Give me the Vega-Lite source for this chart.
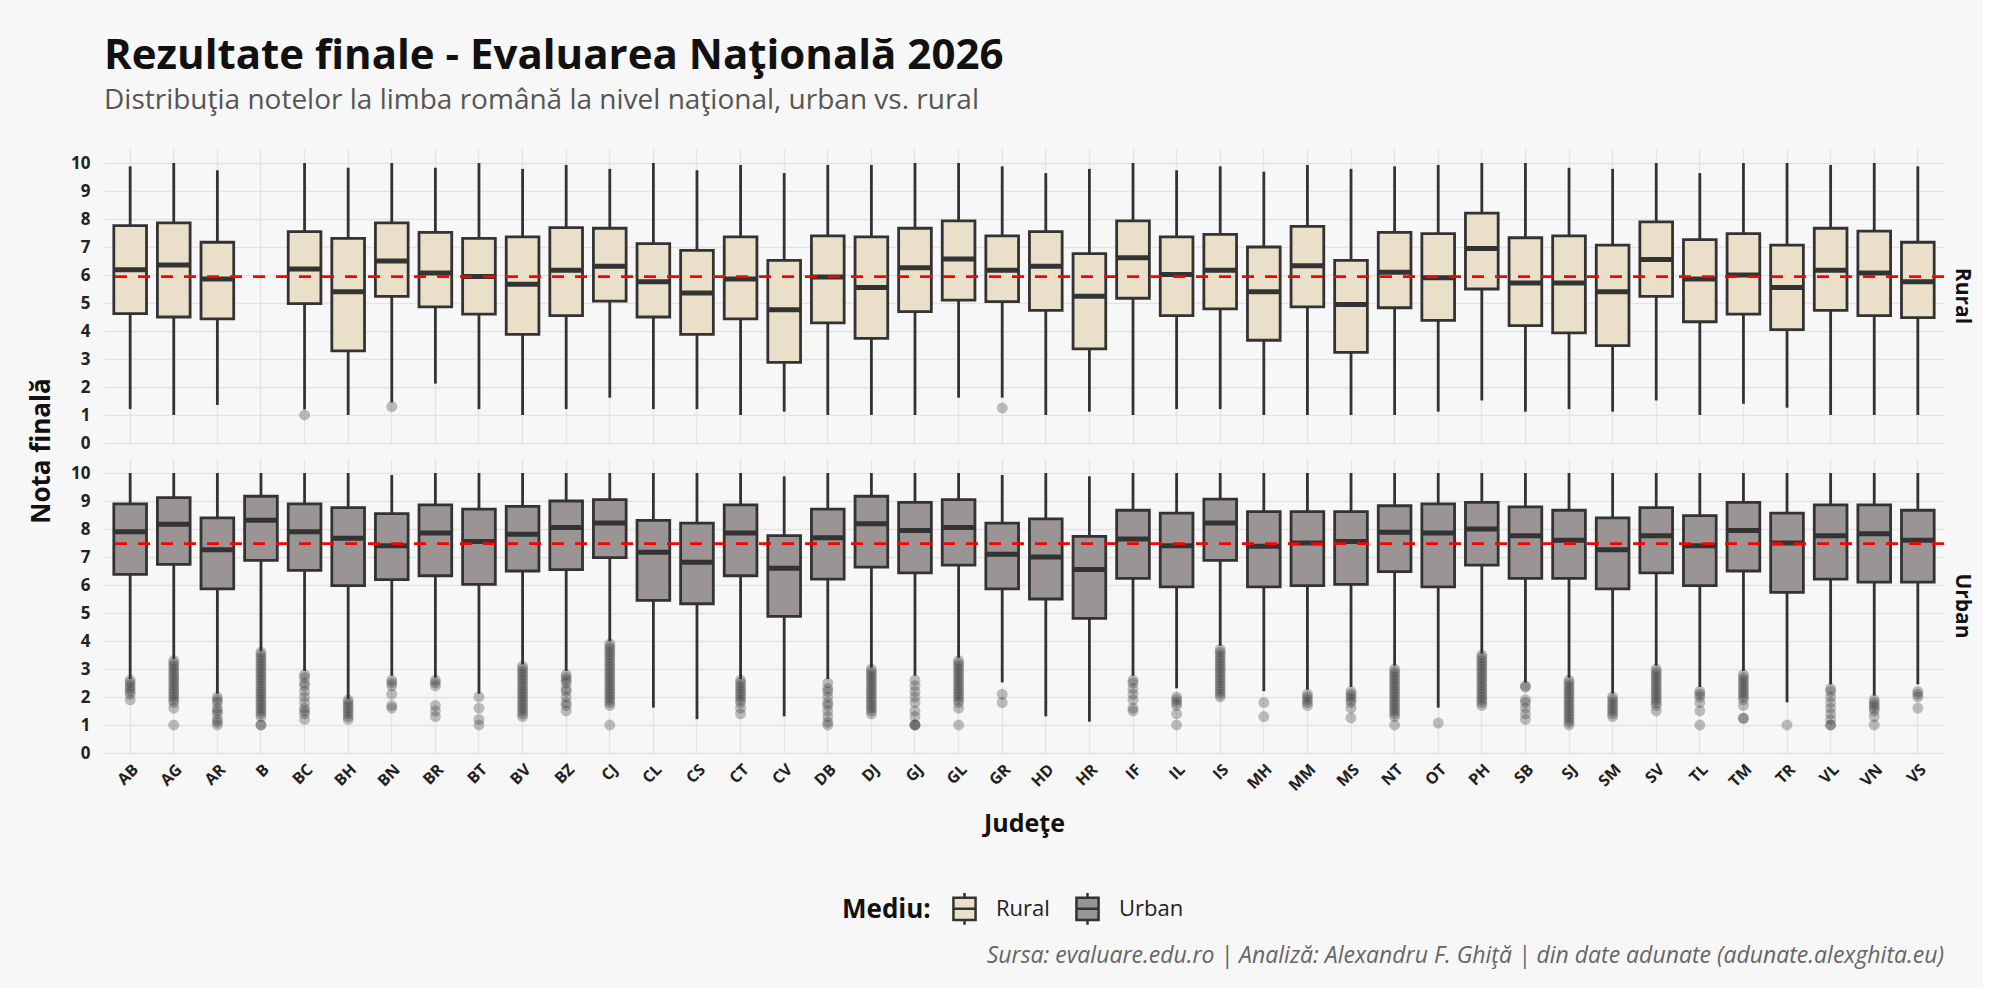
{
  "$schema": "https://vega.github.io/schema/vega-lite/v6.json",
  "background": "#F7F7F7",
  "padding": {"left": 28, "top": 35, "right": 10, "bottom": 20},
  "title": {
    "text": "Rezultate finale - Evaluarea Naţională 2026",
    "subtitle": "Distribuţia notelor la limba română la nivel naţional, urban vs. rural",
    "anchor": "start", "frame": "group",
    "font": "Open Sans", "fontSize": 42, "fontWeight": "bold", "color": "#111111",
    "subtitleFont": "Open Sans", "subtitleFontSize": 28, "subtitleColor": "#555555", "subtitlePadding": 9, "offset": 33
  },
  "config": {
    "font": "Open Sans",
    "view": {"stroke": null},
    "axis": {"gridColor": "#E4E4E4", "gridWidth": 1.4, "domain": false, "ticks": false, "labelFont": "Open Sans", "labelFontWeight": "bold", "labelColor": "#222222", "titleFont": "Open Sans"}
  },
  "vconcat": [
    {
      "title": {
        "text": "Sursa: evaluare.edu.ro | Analiză: Alexandru F. Ghiţă | din date adunate (adunate.alexghita.eu)",
        "orient": "bottom", "anchor": "start", "align": "right", "dx": 1840, "frame": "group",
        "font": "Open Sans", "fontSize": 23, "fontStyle": "italic", "fontWeight": "normal", "color": "#666666", "offset": 108
      },
      "data": {"values": [
        {"j":"AB","m":"Rural","t":"b","lo":1.21,"q1":4.62,"md":6.19,"q3":7.76,"hi":9.88},
        {"j":"AG","m":"Rural","t":"b","lo":1.0,"q1":4.5,"md":6.36,"q3":7.86,"hi":10},
        {"j":"AR","m":"Rural","t":"b","lo":1.36,"q1":4.43,"md":5.86,"q3":7.17,"hi":9.74},
        {"j":"BC","m":"Rural","t":"b","lo":1.2,"q1":4.98,"md":6.21,"q3":7.55,"hi":10},
        {"j":"BH","m":"Rural","t":"b","lo":1.0,"q1":3.29,"md":5.4,"q3":7.31,"hi":9.83},
        {"j":"BN","m":"Rural","t":"b","lo":1.45,"q1":5.24,"md":6.5,"q3":7.86,"hi":10},
        {"j":"BR","m":"Rural","t":"b","lo":2.12,"q1":4.86,"md":6.07,"q3":7.52,"hi":9.83},
        {"j":"BT","m":"Rural","t":"b","lo":1.21,"q1":4.6,"md":5.95,"q3":7.31,"hi":10},
        {"j":"BV","m":"Rural","t":"b","lo":1.0,"q1":3.88,"md":5.67,"q3":7.36,"hi":9.79},
        {"j":"BZ","m":"Rural","t":"b","lo":1.21,"q1":4.55,"md":6.17,"q3":7.69,"hi":9.93},
        {"j":"CJ","m":"Rural","t":"b","lo":1.62,"q1":5.07,"md":6.31,"q3":7.67,"hi":9.79},
        {"j":"CL","m":"Rural","t":"b","lo":1.21,"q1":4.5,"md":5.76,"q3":7.12,"hi":10},
        {"j":"CS","m":"Rural","t":"b","lo":1.21,"q1":3.88,"md":5.36,"q3":6.88,"hi":9.74},
        {"j":"CT","m":"Rural","t":"b","lo":1.0,"q1":4.43,"md":5.86,"q3":7.36,"hi":9.93},
        {"j":"CV","m":"Rural","t":"b","lo":1.12,"q1":2.88,"md":4.76,"q3":6.52,"hi":9.64},
        {"j":"DB","m":"Rural","t":"b","lo":1.0,"q1":4.29,"md":5.93,"q3":7.4,"hi":9.93},
        {"j":"DJ","m":"Rural","t":"b","lo":1.0,"q1":3.74,"md":5.55,"q3":7.36,"hi":9.93},
        {"j":"GJ","m":"Rural","t":"b","lo":1.0,"q1":4.69,"md":6.26,"q3":7.67,"hi":10},
        {"j":"GL","m":"Rural","t":"b","lo":1.62,"q1":5.1,"md":6.57,"q3":7.93,"hi":10},
        {"j":"GR","m":"Rural","t":"b","lo":1.62,"q1":5.05,"md":6.17,"q3":7.4,"hi":9.88},
        {"j":"HD","m":"Rural","t":"b","lo":1.0,"q1":4.74,"md":6.31,"q3":7.55,"hi":9.64},
        {"j":"HR","m":"Rural","t":"b","lo":1.12,"q1":3.36,"md":5.24,"q3":6.76,"hi":9.79},
        {"j":"IF","m":"Rural","t":"b","lo":1.0,"q1":5.17,"md":6.62,"q3":7.93,"hi":10},
        {"j":"IL","m":"Rural","t":"b","lo":1.21,"q1":4.55,"md":6.02,"q3":7.36,"hi":9.74},
        {"j":"IS","m":"Rural","t":"b","lo":1.21,"q1":4.79,"md":6.17,"q3":7.45,"hi":9.88},
        {"j":"MH","m":"Rural","t":"b","lo":1.0,"q1":3.67,"md":5.4,"q3":7.0,"hi":9.69},
        {"j":"MM","m":"Rural","t":"b","lo":1.0,"q1":4.86,"md":6.33,"q3":7.74,"hi":9.93},
        {"j":"MS","m":"Rural","t":"b","lo":1.0,"q1":3.24,"md":4.95,"q3":6.52,"hi":9.79},
        {"j":"NT","m":"Rural","t":"b","lo":1.0,"q1":4.83,"md":6.1,"q3":7.52,"hi":9.88},
        {"j":"OT","m":"Rural","t":"b","lo":1.12,"q1":4.38,"md":5.9,"q3":7.48,"hi":9.93},
        {"j":"PH","m":"Rural","t":"b","lo":1.52,"q1":5.5,"md":6.95,"q3":8.21,"hi":10},
        {"j":"SB","m":"Rural","t":"b","lo":1.12,"q1":4.19,"md":5.71,"q3":7.33,"hi":10},
        {"j":"SJ","m":"Rural","t":"b","lo":1.21,"q1":3.93,"md":5.71,"q3":7.4,"hi":9.83},
        {"j":"SM","m":"Rural","t":"b","lo":1.12,"q1":3.48,"md":5.4,"q3":7.07,"hi":9.79},
        {"j":"SV","m":"Rural","t":"b","lo":1.52,"q1":5.24,"md":6.55,"q3":7.9,"hi":10},
        {"j":"TL","m":"Rural","t":"b","lo":1.0,"q1":4.33,"md":5.86,"q3":7.26,"hi":9.64},
        {"j":"TM","m":"Rural","t":"b","lo":1.4,"q1":4.6,"md":6.0,"q3":7.48,"hi":10},
        {"j":"TR","m":"Rural","t":"b","lo":1.26,"q1":4.05,"md":5.55,"q3":7.07,"hi":10},
        {"j":"VL","m":"Rural","t":"b","lo":1.0,"q1":4.74,"md":6.17,"q3":7.67,"hi":9.93},
        {"j":"VN","m":"Rural","t":"b","lo":1.0,"q1":4.55,"md":6.07,"q3":7.57,"hi":10},
        {"j":"VS","m":"Rural","t":"b","lo":1.0,"q1":4.48,"md":5.76,"q3":7.17,"hi":9.88},
        {"j":"AB","m":"Urban","t":"b","lo":2.64,"q1":6.38,"md":7.9,"q3":8.9,"hi":10},
        {"j":"AG","m":"Urban","t":"b","lo":3.36,"q1":6.74,"md":8.17,"q3":9.12,"hi":10},
        {"j":"AR","m":"Urban","t":"b","lo":2.12,"q1":5.86,"md":7.26,"q3":8.4,"hi":10},
        {"j":"B","m":"Urban","t":"b","lo":3.64,"q1":6.88,"md":8.31,"q3":9.17,"hi":10},
        {"j":"BC","m":"Urban","t":"b","lo":2.93,"q1":6.52,"md":7.9,"q3":8.9,"hi":10},
        {"j":"BH","m":"Urban","t":"b","lo":1.93,"q1":5.98,"md":7.67,"q3":8.76,"hi":10},
        {"j":"BN","m":"Urban","t":"b","lo":2.76,"q1":6.19,"md":7.4,"q3":8.55,"hi":9.93},
        {"j":"BR","m":"Urban","t":"b","lo":2.69,"q1":6.33,"md":7.86,"q3":8.86,"hi":10},
        {"j":"BT","m":"Urban","t":"b","lo":2.12,"q1":6.02,"md":7.55,"q3":8.71,"hi":10},
        {"j":"BV","m":"Urban","t":"b","lo":3.17,"q1":6.5,"md":7.81,"q3":8.81,"hi":10},
        {"j":"BZ","m":"Urban","t":"b","lo":2.93,"q1":6.55,"md":8.05,"q3":9.0,"hi":10},
        {"j":"CJ","m":"Urban","t":"b","lo":4.0,"q1":6.98,"md":8.21,"q3":9.05,"hi":10},
        {"j":"CL","m":"Urban","t":"b","lo":1.62,"q1":5.45,"md":7.17,"q3":8.31,"hi":10},
        {"j":"CS","m":"Urban","t":"b","lo":1.21,"q1":5.33,"md":6.81,"q3":8.21,"hi":10},
        {"j":"CT","m":"Urban","t":"b","lo":2.64,"q1":6.33,"md":7.86,"q3":8.86,"hi":10},
        {"j":"CV","m":"Urban","t":"b","lo":1.31,"q1":4.88,"md":6.6,"q3":7.76,"hi":9.88},
        {"j":"DB","m":"Urban","t":"b","lo":2.64,"q1":6.21,"md":7.69,"q3":8.71,"hi":10},
        {"j":"DJ","m":"Urban","t":"b","lo":3.05,"q1":6.64,"md":8.19,"q3":9.17,"hi":10},
        {"j":"GJ","m":"Urban","t":"b","lo":2.76,"q1":6.43,"md":7.95,"q3":8.95,"hi":10},
        {"j":"GL","m":"Urban","t":"b","lo":3.4,"q1":6.71,"md":8.05,"q3":9.05,"hi":10},
        {"j":"GR","m":"Urban","t":"b","lo":2.52,"q1":5.86,"md":7.1,"q3":8.21,"hi":9.93},
        {"j":"HD","m":"Urban","t":"b","lo":1.31,"q1":5.5,"md":7.0,"q3":8.36,"hi":10},
        {"j":"HR","m":"Urban","t":"b","lo":1.12,"q1":4.81,"md":6.55,"q3":7.74,"hi":9.88},
        {"j":"IF","m":"Urban","t":"b","lo":2.76,"q1":6.24,"md":7.64,"q3":8.67,"hi":10},
        {"j":"IL","m":"Urban","t":"b","lo":2.31,"q1":5.93,"md":7.4,"q3":8.57,"hi":10},
        {"j":"IS","m":"Urban","t":"b","lo":3.83,"q1":6.88,"md":8.21,"q3":9.07,"hi":10},
        {"j":"MH","m":"Urban","t":"b","lo":2.21,"q1":5.93,"md":7.38,"q3":8.62,"hi":10},
        {"j":"MM","m":"Urban","t":"b","lo":2.26,"q1":5.98,"md":7.5,"q3":8.62,"hi":10},
        {"j":"MS","m":"Urban","t":"b","lo":2.36,"q1":6.02,"md":7.55,"q3":8.62,"hi":10},
        {"j":"NT","m":"Urban","t":"b","lo":3.12,"q1":6.48,"md":7.88,"q3":8.83,"hi":10},
        {"j":"OT","m":"Urban","t":"b","lo":1.62,"q1":5.93,"md":7.86,"q3":8.9,"hi":10},
        {"j":"PH","m":"Urban","t":"b","lo":3.55,"q1":6.71,"md":8.0,"q3":8.95,"hi":10},
        {"j":"SB","m":"Urban","t":"b","lo":2.52,"q1":6.24,"md":7.76,"q3":8.79,"hi":10},
        {"j":"SJ","m":"Urban","t":"b","lo":2.69,"q1":6.24,"md":7.6,"q3":8.67,"hi":10},
        {"j":"SM","m":"Urban","t":"b","lo":2.12,"q1":5.86,"md":7.26,"q3":8.4,"hi":10},
        {"j":"SV","m":"Urban","t":"b","lo":3.12,"q1":6.43,"md":7.76,"q3":8.76,"hi":10},
        {"j":"TL","m":"Urban","t":"b","lo":2.36,"q1":5.98,"md":7.4,"q3":8.48,"hi":10},
        {"j":"TM","m":"Urban","t":"b","lo":2.93,"q1":6.5,"md":7.95,"q3":8.95,"hi":10},
        {"j":"TR","m":"Urban","t":"b","lo":1.81,"q1":5.74,"md":7.5,"q3":8.57,"hi":10},
        {"j":"VL","m":"Urban","t":"b","lo":2.45,"q1":6.21,"md":7.76,"q3":8.86,"hi":10},
        {"j":"VN","m":"Urban","t":"b","lo":2.05,"q1":6.1,"md":7.83,"q3":8.86,"hi":10},
        {"j":"VS","m":"Urban","t":"b","lo":2.45,"q1":6.1,"md":7.6,"q3":8.67,"hi":10},
        {"m":"Rural","t":"m","v":5.94},
        {"m":"Urban","t":"m","v":7.48},
        {"j":"BC","m":"Rural","t":"o","v":1.0},
        {"j":"BN","m":"Rural","t":"o","v":1.3},
        {"j":"GR","m":"Rural","t":"o","v":1.25},
        {"j":"AB","m":"Urban","t":"o","v":2.6},{"j":"AB","m":"Urban","t":"o","v":2.5},{"j":"AB","m":"Urban","t":"o","v":2.4},{"j":"AB","m":"Urban","t":"o","v":2.3},{"j":"AB","m":"Urban","t":"o","v":2.2},{"j":"AB","m":"Urban","t":"o","v":2.1},{"j":"AB","m":"Urban","t":"o","v":1.9},
        {"j":"AG","m":"Urban","t":"o","v":3.3},{"j":"AG","m":"Urban","t":"o","v":3.2},{"j":"AG","m":"Urban","t":"o","v":3.1},{"j":"AG","m":"Urban","t":"o","v":3.0},{"j":"AG","m":"Urban","t":"o","v":2.9},{"j":"AG","m":"Urban","t":"o","v":2.8},{"j":"AG","m":"Urban","t":"o","v":2.7},{"j":"AG","m":"Urban","t":"o","v":2.6},{"j":"AG","m":"Urban","t":"o","v":2.5},{"j":"AG","m":"Urban","t":"o","v":2.4},{"j":"AG","m":"Urban","t":"o","v":2.3},{"j":"AG","m":"Urban","t":"o","v":2.2},{"j":"AG","m":"Urban","t":"o","v":2.1},{"j":"AG","m":"Urban","t":"o","v":2.0},{"j":"AG","m":"Urban","t":"o","v":1.9},{"j":"AG","m":"Urban","t":"o","v":1.8},{"j":"AG","m":"Urban","t":"o","v":1.6},{"j":"AG","m":"Urban","t":"o","v":1.0},
        {"j":"AR","m":"Urban","t":"o","v":2.0},{"j":"AR","m":"Urban","t":"o","v":1.9},{"j":"AR","m":"Urban","t":"o","v":1.8},{"j":"AR","m":"Urban","t":"o","v":1.6},{"j":"AR","m":"Urban","t":"o","v":1.5},{"j":"AR","m":"Urban","t":"o","v":1.4},{"j":"AR","m":"Urban","t":"o","v":1.2},{"j":"AR","m":"Urban","t":"o","v":1.1},{"j":"AR","m":"Urban","t":"o","v":1.0},
        {"j":"B","m":"Urban","t":"o","v":3.6},{"j":"B","m":"Urban","t":"o","v":3.5},{"j":"B","m":"Urban","t":"o","v":3.4},{"j":"B","m":"Urban","t":"o","v":3.3},{"j":"B","m":"Urban","t":"o","v":3.2},{"j":"B","m":"Urban","t":"o","v":3.1},{"j":"B","m":"Urban","t":"o","v":3.0},{"j":"B","m":"Urban","t":"o","v":2.9},{"j":"B","m":"Urban","t":"o","v":2.8},{"j":"B","m":"Urban","t":"o","v":2.7},{"j":"B","m":"Urban","t":"o","v":2.6},{"j":"B","m":"Urban","t":"o","v":2.5},{"j":"B","m":"Urban","t":"o","v":2.4},{"j":"B","m":"Urban","t":"o","v":2.3},{"j":"B","m":"Urban","t":"o","v":2.2},{"j":"B","m":"Urban","t":"o","v":2.1},{"j":"B","m":"Urban","t":"o","v":2.0},{"j":"B","m":"Urban","t":"o","v":1.9},{"j":"B","m":"Urban","t":"o","v":1.8},{"j":"B","m":"Urban","t":"o","v":1.7},{"j":"B","m":"Urban","t":"o","v":1.6},{"j":"B","m":"Urban","t":"o","v":1.5},{"j":"B","m":"Urban","t":"o","v":1.4},{"j":"B","m":"Urban","t":"o","v":1.3},{"j":"B","m":"Urban","t":"o","v":1.0},{"j":"B","m":"Urban","t":"o","v":1.0},
        {"j":"BC","m":"Urban","t":"o","v":2.8},{"j":"BC","m":"Urban","t":"o","v":2.7},{"j":"BC","m":"Urban","t":"o","v":2.5},{"j":"BC","m":"Urban","t":"o","v":2.4},{"j":"BC","m":"Urban","t":"o","v":2.2},{"j":"BC","m":"Urban","t":"o","v":2.0},{"j":"BC","m":"Urban","t":"o","v":1.8},{"j":"BC","m":"Urban","t":"o","v":1.6},{"j":"BC","m":"Urban","t":"o","v":1.5},{"j":"BC","m":"Urban","t":"o","v":1.4},{"j":"BC","m":"Urban","t":"o","v":1.2},
        {"j":"BH","m":"Urban","t":"o","v":1.9},{"j":"BH","m":"Urban","t":"o","v":1.8},{"j":"BH","m":"Urban","t":"o","v":1.7},{"j":"BH","m":"Urban","t":"o","v":1.6},{"j":"BH","m":"Urban","t":"o","v":1.5},{"j":"BH","m":"Urban","t":"o","v":1.4},{"j":"BH","m":"Urban","t":"o","v":1.3},{"j":"BH","m":"Urban","t":"o","v":1.2},
        {"j":"BN","m":"Urban","t":"o","v":2.6},{"j":"BN","m":"Urban","t":"o","v":2.5},{"j":"BN","m":"Urban","t":"o","v":2.4},{"j":"BN","m":"Urban","t":"o","v":2.1},{"j":"BN","m":"Urban","t":"o","v":1.7},{"j":"BN","m":"Urban","t":"o","v":1.6},
        {"j":"BR","m":"Urban","t":"o","v":2.6},{"j":"BR","m":"Urban","t":"o","v":2.5},{"j":"BR","m":"Urban","t":"o","v":2.4},{"j":"BR","m":"Urban","t":"o","v":1.7},{"j":"BR","m":"Urban","t":"o","v":1.5},{"j":"BR","m":"Urban","t":"o","v":1.3},
        {"j":"BT","m":"Urban","t":"o","v":2.0},{"j":"BT","m":"Urban","t":"o","v":1.6},{"j":"BT","m":"Urban","t":"o","v":1.2},{"j":"BT","m":"Urban","t":"o","v":1.0},
        {"j":"BV","m":"Urban","t":"o","v":3.1},{"j":"BV","m":"Urban","t":"o","v":3.0},{"j":"BV","m":"Urban","t":"o","v":2.9},{"j":"BV","m":"Urban","t":"o","v":2.8},{"j":"BV","m":"Urban","t":"o","v":2.7},{"j":"BV","m":"Urban","t":"o","v":2.6},{"j":"BV","m":"Urban","t":"o","v":2.5},{"j":"BV","m":"Urban","t":"o","v":2.4},{"j":"BV","m":"Urban","t":"o","v":2.3},{"j":"BV","m":"Urban","t":"o","v":2.2},{"j":"BV","m":"Urban","t":"o","v":2.1},{"j":"BV","m":"Urban","t":"o","v":2.0},{"j":"BV","m":"Urban","t":"o","v":1.9},{"j":"BV","m":"Urban","t":"o","v":1.8},{"j":"BV","m":"Urban","t":"o","v":1.7},{"j":"BV","m":"Urban","t":"o","v":1.6},{"j":"BV","m":"Urban","t":"o","v":1.5},{"j":"BV","m":"Urban","t":"o","v":1.4},{"j":"BV","m":"Urban","t":"o","v":1.3},
        {"j":"BZ","m":"Urban","t":"o","v":2.8},{"j":"BZ","m":"Urban","t":"o","v":2.7},{"j":"BZ","m":"Urban","t":"o","v":2.6},{"j":"BZ","m":"Urban","t":"o","v":2.5},{"j":"BZ","m":"Urban","t":"o","v":2.3},{"j":"BZ","m":"Urban","t":"o","v":2.2},{"j":"BZ","m":"Urban","t":"o","v":2.0},{"j":"BZ","m":"Urban","t":"o","v":1.8},{"j":"BZ","m":"Urban","t":"o","v":1.7},{"j":"BZ","m":"Urban","t":"o","v":1.5},
        {"j":"CJ","m":"Urban","t":"o","v":3.9},{"j":"CJ","m":"Urban","t":"o","v":3.8},{"j":"CJ","m":"Urban","t":"o","v":3.7},{"j":"CJ","m":"Urban","t":"o","v":3.6},{"j":"CJ","m":"Urban","t":"o","v":3.5},{"j":"CJ","m":"Urban","t":"o","v":3.4},{"j":"CJ","m":"Urban","t":"o","v":3.3},{"j":"CJ","m":"Urban","t":"o","v":3.2},{"j":"CJ","m":"Urban","t":"o","v":3.1},{"j":"CJ","m":"Urban","t":"o","v":3.0},{"j":"CJ","m":"Urban","t":"o","v":2.9},{"j":"CJ","m":"Urban","t":"o","v":2.8},{"j":"CJ","m":"Urban","t":"o","v":2.7},{"j":"CJ","m":"Urban","t":"o","v":2.6},{"j":"CJ","m":"Urban","t":"o","v":2.5},{"j":"CJ","m":"Urban","t":"o","v":2.4},{"j":"CJ","m":"Urban","t":"o","v":2.3},{"j":"CJ","m":"Urban","t":"o","v":2.2},{"j":"CJ","m":"Urban","t":"o","v":2.1},{"j":"CJ","m":"Urban","t":"o","v":2.0},{"j":"CJ","m":"Urban","t":"o","v":1.9},{"j":"CJ","m":"Urban","t":"o","v":1.8},{"j":"CJ","m":"Urban","t":"o","v":1.7},{"j":"CJ","m":"Urban","t":"o","v":1.0},
        {"j":"CT","m":"Urban","t":"o","v":2.6},{"j":"CT","m":"Urban","t":"o","v":2.5},{"j":"CT","m":"Urban","t":"o","v":2.4},{"j":"CT","m":"Urban","t":"o","v":2.3},{"j":"CT","m":"Urban","t":"o","v":2.2},{"j":"CT","m":"Urban","t":"o","v":2.1},{"j":"CT","m":"Urban","t":"o","v":2.0},{"j":"CT","m":"Urban","t":"o","v":1.9},{"j":"CT","m":"Urban","t":"o","v":1.8},{"j":"CT","m":"Urban","t":"o","v":1.6},{"j":"CT","m":"Urban","t":"o","v":1.4},
        {"j":"DB","m":"Urban","t":"o","v":2.5},{"j":"DB","m":"Urban","t":"o","v":2.3},{"j":"DB","m":"Urban","t":"o","v":2.2},{"j":"DB","m":"Urban","t":"o","v":2.0},{"j":"DB","m":"Urban","t":"o","v":1.8},{"j":"DB","m":"Urban","t":"o","v":1.7},{"j":"DB","m":"Urban","t":"o","v":1.5},{"j":"DB","m":"Urban","t":"o","v":1.3},{"j":"DB","m":"Urban","t":"o","v":1.1},{"j":"DB","m":"Urban","t":"o","v":1.0},
        {"j":"DJ","m":"Urban","t":"o","v":3.0},{"j":"DJ","m":"Urban","t":"o","v":2.9},{"j":"DJ","m":"Urban","t":"o","v":2.8},{"j":"DJ","m":"Urban","t":"o","v":2.7},{"j":"DJ","m":"Urban","t":"o","v":2.6},{"j":"DJ","m":"Urban","t":"o","v":2.5},{"j":"DJ","m":"Urban","t":"o","v":2.4},{"j":"DJ","m":"Urban","t":"o","v":2.3},{"j":"DJ","m":"Urban","t":"o","v":2.2},{"j":"DJ","m":"Urban","t":"o","v":2.1},{"j":"DJ","m":"Urban","t":"o","v":2.0},{"j":"DJ","m":"Urban","t":"o","v":1.9},{"j":"DJ","m":"Urban","t":"o","v":1.8},{"j":"DJ","m":"Urban","t":"o","v":1.7},{"j":"DJ","m":"Urban","t":"o","v":1.6},{"j":"DJ","m":"Urban","t":"o","v":1.5},{"j":"DJ","m":"Urban","t":"o","v":1.4},
        {"j":"GJ","m":"Urban","t":"o","v":2.6},{"j":"GJ","m":"Urban","t":"o","v":2.4},{"j":"GJ","m":"Urban","t":"o","v":2.2},{"j":"GJ","m":"Urban","t":"o","v":2.0},{"j":"GJ","m":"Urban","t":"o","v":1.8},{"j":"GJ","m":"Urban","t":"o","v":1.5},{"j":"GJ","m":"Urban","t":"o","v":1.3},{"j":"GJ","m":"Urban","t":"o","v":1.0},{"j":"GJ","m":"Urban","t":"o","v":1.0},{"j":"GJ","m":"Urban","t":"o","v":1.0},
        {"j":"GL","m":"Urban","t":"o","v":3.3},{"j":"GL","m":"Urban","t":"o","v":3.2},{"j":"GL","m":"Urban","t":"o","v":3.1},{"j":"GL","m":"Urban","t":"o","v":3.0},{"j":"GL","m":"Urban","t":"o","v":2.9},{"j":"GL","m":"Urban","t":"o","v":2.8},{"j":"GL","m":"Urban","t":"o","v":2.7},{"j":"GL","m":"Urban","t":"o","v":2.6},{"j":"GL","m":"Urban","t":"o","v":2.5},{"j":"GL","m":"Urban","t":"o","v":2.4},{"j":"GL","m":"Urban","t":"o","v":2.3},{"j":"GL","m":"Urban","t":"o","v":2.2},{"j":"GL","m":"Urban","t":"o","v":2.1},{"j":"GL","m":"Urban","t":"o","v":2.0},{"j":"GL","m":"Urban","t":"o","v":1.9},{"j":"GL","m":"Urban","t":"o","v":1.8},{"j":"GL","m":"Urban","t":"o","v":1.6},{"j":"GL","m":"Urban","t":"o","v":1.0},
        {"j":"GR","m":"Urban","t":"o","v":2.1},{"j":"GR","m":"Urban","t":"o","v":1.8},
        {"j":"IF","m":"Urban","t":"o","v":2.6},{"j":"IF","m":"Urban","t":"o","v":2.5},{"j":"IF","m":"Urban","t":"o","v":2.3},{"j":"IF","m":"Urban","t":"o","v":2.1},{"j":"IF","m":"Urban","t":"o","v":1.9},{"j":"IF","m":"Urban","t":"o","v":1.6},{"j":"IF","m":"Urban","t":"o","v":1.5},
        {"j":"IL","m":"Urban","t":"o","v":2.0},{"j":"IL","m":"Urban","t":"o","v":1.9},{"j":"IL","m":"Urban","t":"o","v":1.8},{"j":"IL","m":"Urban","t":"o","v":1.7},{"j":"IL","m":"Urban","t":"o","v":1.4},{"j":"IL","m":"Urban","t":"o","v":1.0},
        {"j":"IS","m":"Urban","t":"o","v":3.7},{"j":"IS","m":"Urban","t":"o","v":3.6},{"j":"IS","m":"Urban","t":"o","v":3.5},{"j":"IS","m":"Urban","t":"o","v":3.4},{"j":"IS","m":"Urban","t":"o","v":3.3},{"j":"IS","m":"Urban","t":"o","v":3.2},{"j":"IS","m":"Urban","t":"o","v":3.1},{"j":"IS","m":"Urban","t":"o","v":3.0},{"j":"IS","m":"Urban","t":"o","v":2.9},{"j":"IS","m":"Urban","t":"o","v":2.8},{"j":"IS","m":"Urban","t":"o","v":2.7},{"j":"IS","m":"Urban","t":"o","v":2.6},{"j":"IS","m":"Urban","t":"o","v":2.5},{"j":"IS","m":"Urban","t":"o","v":2.4},{"j":"IS","m":"Urban","t":"o","v":2.3},{"j":"IS","m":"Urban","t":"o","v":2.2},{"j":"IS","m":"Urban","t":"o","v":2.1},{"j":"IS","m":"Urban","t":"o","v":2.0},
        {"j":"MH","m":"Urban","t":"o","v":1.8},{"j":"MH","m":"Urban","t":"o","v":1.3},
        {"j":"MM","m":"Urban","t":"o","v":2.1},{"j":"MM","m":"Urban","t":"o","v":2.0},{"j":"MM","m":"Urban","t":"o","v":1.9},{"j":"MM","m":"Urban","t":"o","v":1.8},{"j":"MM","m":"Urban","t":"o","v":1.7},
        {"j":"MS","m":"Urban","t":"o","v":2.2},{"j":"MS","m":"Urban","t":"o","v":2.1},{"j":"MS","m":"Urban","t":"o","v":2.0},{"j":"MS","m":"Urban","t":"o","v":1.9},{"j":"MS","m":"Urban","t":"o","v":1.8},{"j":"MS","m":"Urban","t":"o","v":1.6},{"j":"MS","m":"Urban","t":"o","v":1.25},
        {"j":"NT","m":"Urban","t":"o","v":3.0},{"j":"NT","m":"Urban","t":"o","v":2.9},{"j":"NT","m":"Urban","t":"o","v":2.8},{"j":"NT","m":"Urban","t":"o","v":2.7},{"j":"NT","m":"Urban","t":"o","v":2.6},{"j":"NT","m":"Urban","t":"o","v":2.5},{"j":"NT","m":"Urban","t":"o","v":2.4},{"j":"NT","m":"Urban","t":"o","v":2.3},{"j":"NT","m":"Urban","t":"o","v":2.2},{"j":"NT","m":"Urban","t":"o","v":2.1},{"j":"NT","m":"Urban","t":"o","v":2.0},{"j":"NT","m":"Urban","t":"o","v":1.9},{"j":"NT","m":"Urban","t":"o","v":1.8},{"j":"NT","m":"Urban","t":"o","v":1.7},{"j":"NT","m":"Urban","t":"o","v":1.6},{"j":"NT","m":"Urban","t":"o","v":1.5},{"j":"NT","m":"Urban","t":"o","v":1.4},{"j":"NT","m":"Urban","t":"o","v":1.3},{"j":"NT","m":"Urban","t":"o","v":1.0},
        {"j":"OT","m":"Urban","t":"o","v":1.07},
        {"j":"PH","m":"Urban","t":"o","v":3.5},{"j":"PH","m":"Urban","t":"o","v":3.4},{"j":"PH","m":"Urban","t":"o","v":3.3},{"j":"PH","m":"Urban","t":"o","v":3.2},{"j":"PH","m":"Urban","t":"o","v":3.1},{"j":"PH","m":"Urban","t":"o","v":3.0},{"j":"PH","m":"Urban","t":"o","v":2.9},{"j":"PH","m":"Urban","t":"o","v":2.8},{"j":"PH","m":"Urban","t":"o","v":2.7},{"j":"PH","m":"Urban","t":"o","v":2.6},{"j":"PH","m":"Urban","t":"o","v":2.5},{"j":"PH","m":"Urban","t":"o","v":2.4},{"j":"PH","m":"Urban","t":"o","v":2.3},{"j":"PH","m":"Urban","t":"o","v":2.2},{"j":"PH","m":"Urban","t":"o","v":2.1},{"j":"PH","m":"Urban","t":"o","v":2.0},{"j":"PH","m":"Urban","t":"o","v":1.9},{"j":"PH","m":"Urban","t":"o","v":1.8},{"j":"PH","m":"Urban","t":"o","v":1.7},
        {"j":"SB","m":"Urban","t":"o","v":2.4},{"j":"SB","m":"Urban","t":"o","v":2.35},{"j":"SB","m":"Urban","t":"o","v":1.9},{"j":"SB","m":"Urban","t":"o","v":1.8},{"j":"SB","m":"Urban","t":"o","v":1.6},{"j":"SB","m":"Urban","t":"o","v":1.4},{"j":"SB","m":"Urban","t":"o","v":1.2},
        {"j":"SJ","m":"Urban","t":"o","v":2.6},{"j":"SJ","m":"Urban","t":"o","v":2.5},{"j":"SJ","m":"Urban","t":"o","v":2.4},{"j":"SJ","m":"Urban","t":"o","v":2.3},{"j":"SJ","m":"Urban","t":"o","v":2.2},{"j":"SJ","m":"Urban","t":"o","v":2.1},{"j":"SJ","m":"Urban","t":"o","v":2.0},{"j":"SJ","m":"Urban","t":"o","v":1.9},{"j":"SJ","m":"Urban","t":"o","v":1.8},{"j":"SJ","m":"Urban","t":"o","v":1.7},{"j":"SJ","m":"Urban","t":"o","v":1.6},{"j":"SJ","m":"Urban","t":"o","v":1.5},{"j":"SJ","m":"Urban","t":"o","v":1.4},{"j":"SJ","m":"Urban","t":"o","v":1.3},{"j":"SJ","m":"Urban","t":"o","v":1.2},{"j":"SJ","m":"Urban","t":"o","v":1.1},{"j":"SJ","m":"Urban","t":"o","v":1.0},
        {"j":"SM","m":"Urban","t":"o","v":2.0},{"j":"SM","m":"Urban","t":"o","v":1.9},{"j":"SM","m":"Urban","t":"o","v":1.8},{"j":"SM","m":"Urban","t":"o","v":1.7},{"j":"SM","m":"Urban","t":"o","v":1.6},{"j":"SM","m":"Urban","t":"o","v":1.5},{"j":"SM","m":"Urban","t":"o","v":1.4},{"j":"SM","m":"Urban","t":"o","v":1.3},
        {"j":"SV","m":"Urban","t":"o","v":3.0},{"j":"SV","m":"Urban","t":"o","v":2.9},{"j":"SV","m":"Urban","t":"o","v":2.8},{"j":"SV","m":"Urban","t":"o","v":2.7},{"j":"SV","m":"Urban","t":"o","v":2.6},{"j":"SV","m":"Urban","t":"o","v":2.5},{"j":"SV","m":"Urban","t":"o","v":2.4},{"j":"SV","m":"Urban","t":"o","v":2.3},{"j":"SV","m":"Urban","t":"o","v":2.2},{"j":"SV","m":"Urban","t":"o","v":2.1},{"j":"SV","m":"Urban","t":"o","v":2.0},{"j":"SV","m":"Urban","t":"o","v":1.9},{"j":"SV","m":"Urban","t":"o","v":1.8},{"j":"SV","m":"Urban","t":"o","v":1.7},{"j":"SV","m":"Urban","t":"o","v":1.5},
        {"j":"TL","m":"Urban","t":"o","v":2.2},{"j":"TL","m":"Urban","t":"o","v":2.1},{"j":"TL","m":"Urban","t":"o","v":2.0},{"j":"TL","m":"Urban","t":"o","v":1.8},{"j":"TL","m":"Urban","t":"o","v":1.5},{"j":"TL","m":"Urban","t":"o","v":1.0},
        {"j":"TM","m":"Urban","t":"o","v":2.8},{"j":"TM","m":"Urban","t":"o","v":2.7},{"j":"TM","m":"Urban","t":"o","v":2.6},{"j":"TM","m":"Urban","t":"o","v":2.5},{"j":"TM","m":"Urban","t":"o","v":2.4},{"j":"TM","m":"Urban","t":"o","v":2.3},{"j":"TM","m":"Urban","t":"o","v":2.2},{"j":"TM","m":"Urban","t":"o","v":2.1},{"j":"TM","m":"Urban","t":"o","v":2.0},{"j":"TM","m":"Urban","t":"o","v":1.9},{"j":"TM","m":"Urban","t":"o","v":1.7},{"j":"TM","m":"Urban","t":"o","v":1.24},{"j":"TM","m":"Urban","t":"o","v":1.24},
        {"j":"TR","m":"Urban","t":"o","v":1.0},
        {"j":"VL","m":"Urban","t":"o","v":2.3},{"j":"VL","m":"Urban","t":"o","v":2.2},{"j":"VL","m":"Urban","t":"o","v":2.0},{"j":"VL","m":"Urban","t":"o","v":1.8},{"j":"VL","m":"Urban","t":"o","v":1.6},{"j":"VL","m":"Urban","t":"o","v":1.4},{"j":"VL","m":"Urban","t":"o","v":1.2},{"j":"VL","m":"Urban","t":"o","v":1.0},{"j":"VL","m":"Urban","t":"o","v":1.0},
        {"j":"VN","m":"Urban","t":"o","v":1.9},{"j":"VN","m":"Urban","t":"o","v":1.8},{"j":"VN","m":"Urban","t":"o","v":1.7},{"j":"VN","m":"Urban","t":"o","v":1.6},{"j":"VN","m":"Urban","t":"o","v":1.5},{"j":"VN","m":"Urban","t":"o","v":1.3},{"j":"VN","m":"Urban","t":"o","v":1.0},
        {"j":"VS","m":"Urban","t":"o","v":2.2},{"j":"VS","m":"Urban","t":"o","v":2.1},{"j":"VS","m":"Urban","t":"o","v":2.0},{"j":"VS","m":"Urban","t":"o","v":1.6}
      ]},
      "facet": {
        "row": {
          "field": "m", "type": "nominal", "title": "Nota finală",
          "header": {
            "labelOrient": "right", "labelAngle": 90, "labelFont": "Open Sans", "labelFontSize": 21, "labelFontWeight": "bold", "labelColor": "#111111", "labelPadding": 6,
            "titleOrient": "left", "titleAngle": -90, "titleFont": "Open Sans", "titleFontSize": 26, "titleFontWeight": "bold", "titleColor": "#111111", "titlePadding": -21
          }
        }
      },
      "spacing": {"row": 16},
      "spec": {
        "width": 1840,
        "height": 294,
        "encoding": {
          "x": {
            "field": "j", "type": "nominal", "title": "Judeţe",
            "scale": {"domain": ["AB","AG","AR","B","BC","BH","BN","BR","BT","BV","BZ","CJ","CL","CS","CT","CV","DB","DJ","GJ","GL","GR","HD","HR","IF","IL","IS","MH","MM","MS","NT","OT","PH","SB","SJ","SM","SV","TL","TM","TR","VL","VN","VS"], "paddingInner": 0, "paddingOuter": 0.1},
            "axis": {"labelAngle": -45, "labelFontSize": 16, "labelPadding": 8, "grid": true, "bandPosition": 0.5, "titleFontSize": 25, "titleFontWeight": "bold", "titleColor": "#111111", "titlePadding": 18}
          }
        },
        "layer": [
          {
            "transform": [{"filter": "datum.t === 'b'"}],
            "mark": {"type": "rule", "color": "#333333", "strokeWidth": 2.8},
            "encoding": {
              "y": {"field": "lo", "type": "quantitative", "scale": {"domain": [0, 10.5], "nice": false, "zero": false}, "axis": {"title": null, "values": [0,1,2,3,4,5,6,7,8,9,10], "labelOverlap": false, "labelFontSize": 17, "labelPadding": 12}},
              "y2": {"field": "hi"}
            }
          },
          {
            "transform": [{"filter": "datum.t === 'b'"}],
            "mark": {"type": "bar", "width": {"band": 0.75}, "stroke": "#333333", "strokeWidth": 2.8},
            "encoding": {
              "y": {"field": "q1", "type": "quantitative", "axis": {"title": null, "values": [0,1,2,3,4,5,6,7,8,9,10], "labelOverlap": false, "labelFontSize": 17, "labelPadding": 12}},
              "y2": {"field": "q3"},
              "fill": {
                "field": "m", "type": "nominal",
                "scale": {"domain": ["Rural", "Urban"], "range": ["#EADFC9", "#9A9494"]},
                "legend": {
                  "title": "Mediu:", "orient": "none", "legendX": 738, "legendY": 742, "direction": "horizontal", "titleOrient": "left",
                  "titleFont": "Open Sans", "titleFontSize": 26, "titleFontWeight": "bold", "titleColor": "#111111", "titlePadding": 16,
                  "labelFont": "Open Sans", "labelFontSize": 22, "labelColor": "#222222", "labelOffset": 14,
                  "symbolType": "M0,-1V-0.7M-0.7,-0.7H0.7V0.7H-0.7ZM-0.7,0H0.7M0,0.7V1",
                  "symbolSize": 1000, "symbolStrokeColor": "#333333", "symbolStrokeWidth": 2.5, "columnPadding": 20
                }
              }
            }
          },
          {
            "transform": [{"filter": "datum.t === 'b'"}],
            "mark": {"type": "tick", "color": "#333333", "size": 33, "thickness": 5, "opacity": 1},
            "encoding": {"y": {"field": "md", "type": "quantitative", "axis": {"title": null, "values": [0,1,2,3,4,5,6,7,8,9,10], "labelOverlap": false, "labelFontSize": 17, "labelPadding": 12}}}
          },
          {
            "transform": [{"filter": "datum.t === 'o'"}],
            "mark": {"type": "point", "filled": true, "color": "#333333", "opacity": 0.3, "size": 120},
            "encoding": {"y": {"field": "v", "type": "quantitative", "axis": {"title": null, "values": [0,1,2,3,4,5,6,7,8,9,10], "labelOverlap": false, "labelFontSize": 17, "labelPadding": 12}}}
          },
          {
            "transform": [{"filter": "datum.t === 'm'"}],
            "mark": {"type": "rule", "color": "#FF0000", "strokeWidth": 2.8, "strokeDash": [12, 11]},
            "encoding": {"y": {"field": "v", "type": "quantitative", "axis": {"title": null, "values": [0,1,2,3,4,5,6,7,8,9,10], "labelOverlap": false, "labelFontSize": 17, "labelPadding": 12}}, "x": null}
          }
        ]
      }
    }
  ]
}
